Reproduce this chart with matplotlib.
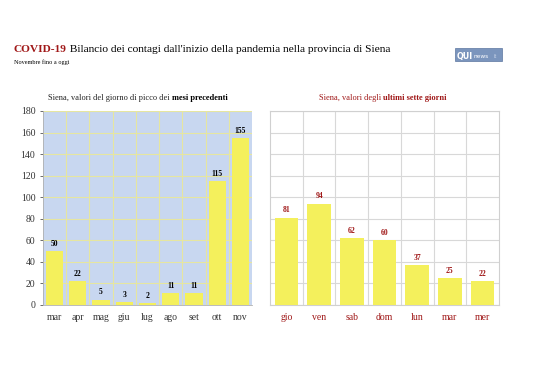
import numpy as np
import matplotlib as mpl
mpl.use('Agg')
import matplotlib.pyplot as plt
from matplotlib.patches import Rectangle
from matplotlib.text import Annotation

# dati
mesi = ['mar', 'apr', 'mag', 'giu', 'lug', 'ago', 'set', 'ott', 'nov']
picchi_mesi = [50, 22, 5, 3, 2, 11, 11, 115, 155]
giorni = ['gio', 'ven', 'sab', 'dom', 'lun', 'mar', 'mer']
valori_giorni = [81, 94, 62, 60, 37, 25, 22]

plt.rcParams['font.family'] = ['Liberation Serif', 'DejaVu Serif']

ROSSO = '#a01818'
GIALLO = '#f4f05c'

fig = plt.figure(figsize=(5.38, 3.8), dpi=100)


def segue(fig, prima, testo, **kw):
    # testo attaccato a destra di un altro testo
    a = Annotation(testo, xy=(1, 0), xycoords=prima, va='bottom', annotation_clip=False, **kw)
    fig.add_artist(a)
    return a


# titolo
t1 = fig.text(14/538, 1-52/380, 'COVID-19', color=ROSSO, fontsize=8.2, fontweight='bold')
segue(fig, t1, ' Bilancio dei contagi dall\'inizio della pandemia nella provincia di Siena',
      fontsize=8.2, color='black')
fig.text(14/538, 1-64/380, 'Novembre fino a oggi', fontsize=4.5, color='black')

# logo
fig.patches.append(Rectangle((455/538, 1-61/380), 47/538, 13/380, transform=fig.transFigure,
                             facecolor='#7b95bd', edgecolor='#5d77a0', lw=0.5))
fig.text(457/538, 1-58.5/380, 'QUI', color='white', fontsize=5.8, fontweight='bold',
         family='DejaVu Sans')
fig.text(474/538, 1-58.5/380, 'news', color='white', fontsize=4.2, family='DejaVu Sans')
fig.text(494/538, 1-58.5/380, 'it', color='#c8d4e8', fontsize=3.5, family='DejaVu Sans')

# grafico sinistro
ax1 = fig.add_axes([43/538, 1-305/380, 209/538, 194/380])
x1 = np.arange(len(mesi))
ax1.set_facecolor('#c8d7f0')
ax1.bar(x1, picchi_mesi, width=0.74, color=GIALLO, zorder=3)
ax1.set_xlim(-0.5, len(mesi)-0.5)
ax1.set_ylim(0, 180)
ax1.set_yticks(range(0, 181, 20))
ax1.set_xticks(x1)
ax1.set_xticklabels(mesi)
ax1.set_xticks(x1[:-1]+0.5, minor=True)
ax1.grid(axis='y', color='#e6e6a0', lw=0.8, zorder=0)
ax1.grid(axis='x', which='minor', color='#e6e6a0', lw=0.8, zorder=0)
ax1.tick_params(axis='both', labelsize=7, colors='#333333', length=2, width=0.5)
ax1.tick_params(axis='x', which='minor', length=0)
ax1.tick_params(axis='x', which='major', length=0, pad=6)
for s in ['top', 'right']:
    ax1.spines[s].set_visible(False)
for s in ['left', 'bottom']:
    ax1.spines[s].set_color('#b0b0b0')
    ax1.spines[s].set_linewidth(0.6)
for xi, v in zip(x1, picchi_mesi):
    ax1.text(xi, v+3, str(v), ha='center', va='bottom', fontsize=5.5, fontweight='bold',
             color='black', zorder=4)

s1 = fig.text(48/538, 1-100/380, 'Siena, valori del giorno di picco dei ', fontsize=6,
              color='#222222')
segue(fig, s1, 'mesi precedenti', fontsize=6, fontweight='bold', color='black')

# grafico destro
ax2 = fig.add_axes([270/538, 1-305/380, 229/538, 194/380])
x2 = np.arange(len(giorni))
ax2.bar(x2, valori_giorni, width=0.72, color=GIALLO, zorder=3)
ax2.set_xlim(-0.5, len(giorni)-0.5)
ax2.set_ylim(0, 180)
ax2.set_yticks(range(0, 181, 20))
ax2.set_yticklabels([])
ax2.set_xticks(x2)
ax2.set_xticklabels(giorni)
ax2.set_xticks(x2[:-1]+0.5, minor=True)
ax2.grid(axis='y', color='#d8d8d8', lw=0.8, zorder=0)
ax2.grid(axis='x', which='minor', color='#d8d8d8', lw=0.8, zorder=0)
ax2.tick_params(axis='both', which='both', length=0)
ax2.tick_params(axis='x', labelsize=7, colors=ROSSO, pad=6)
for s in ax2.spines.values():
    s.set_color('#d0d0d0')
    s.set_linewidth(0.8)
for xi, v in zip(x2, valori_giorni):
    ax2.text(xi, v+3, str(v), ha='center', va='bottom', fontsize=5.5, fontweight='bold',
             color=ROSSO, zorder=4)

s2 = fig.text(319/538, 1-100/380, 'Siena, valori degli ', fontsize=6, color=ROSSO)
segue(fig, s2, 'ultimi sette giorni', fontsize=6, fontweight='bold', color=ROSSO)

fig.savefig('out.png', dpi=100)
